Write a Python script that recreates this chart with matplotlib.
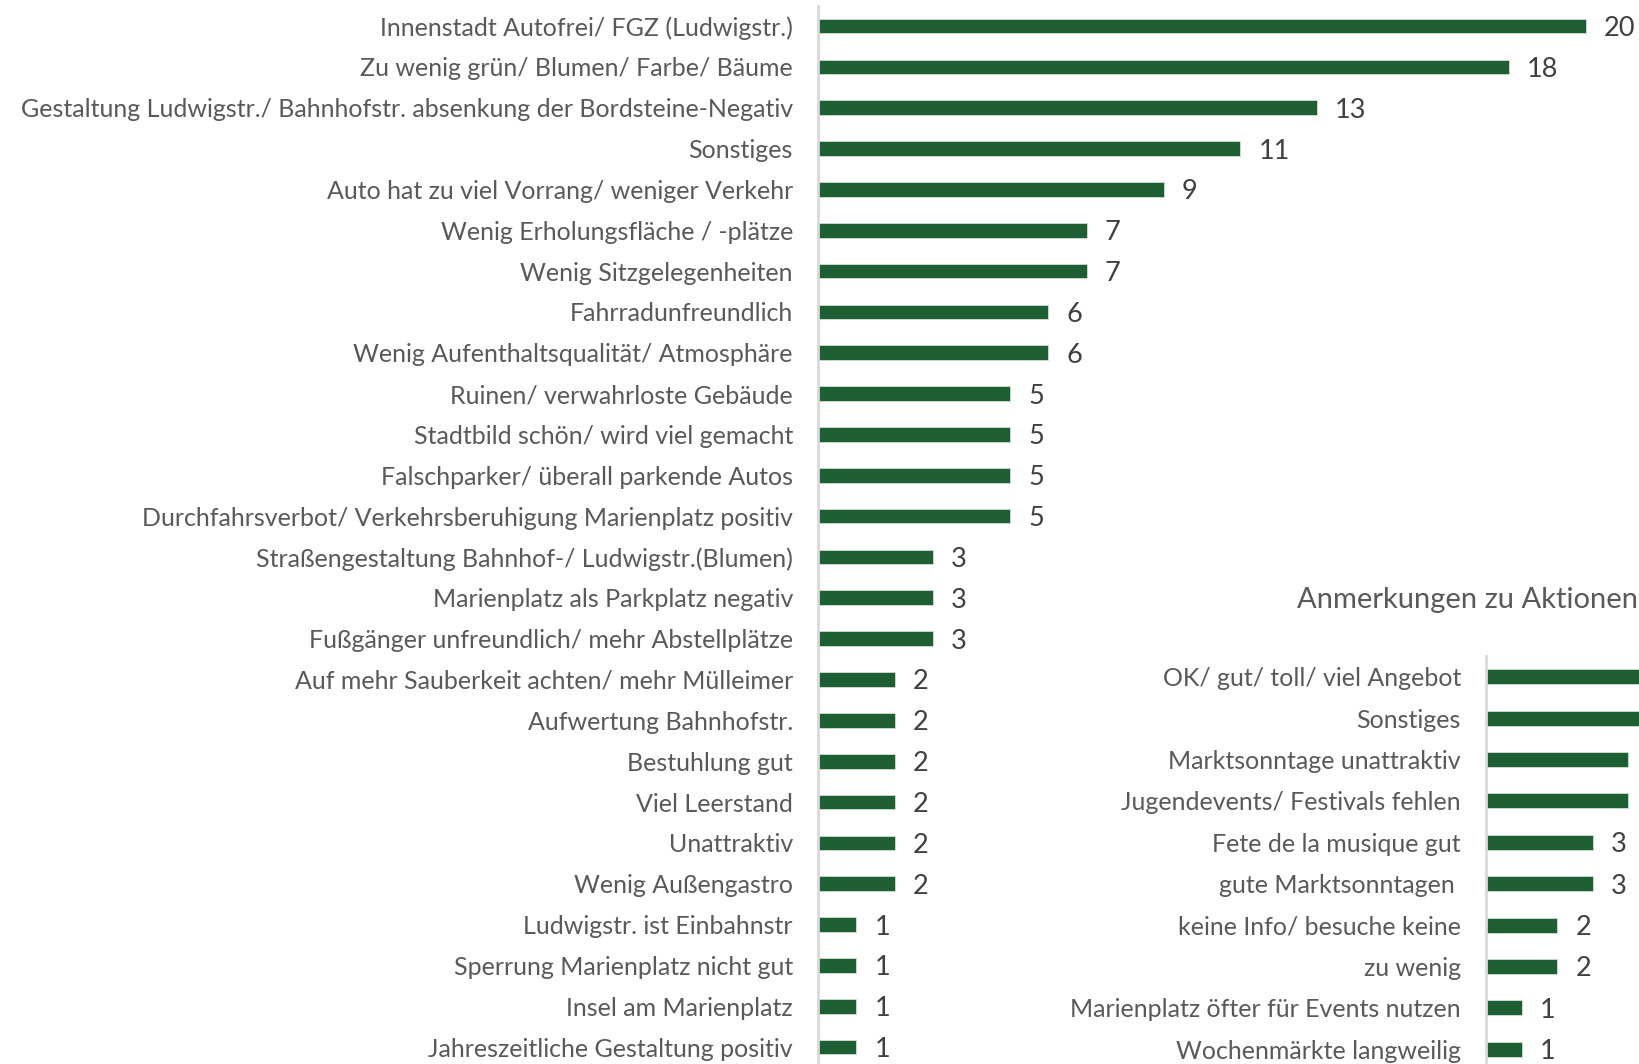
import matplotlib.pyplot as plt

# main chart data (top to bottom)
labels = [
    'Innenstadt Autofrei/ FGZ (Ludwigstr.)',
    'Zu wenig grün/ Blumen/ Farbe/ Bäume',
    'Gestaltung Ludwigstr./ Bahnhofstr. absenkung der Bordsteine-Negativ',
    'Sonstiges',
    'Auto hat zu viel Vorrang/ weniger Verkehr',
    'Wenig Erholungsfläche / -plätze',
    'Wenig Sitzgelegenheiten',
    'Fahrradunfreundlich',
    'Wenig Aufenthaltsqualität/ Atmosphäre',
    'Ruinen/ verwahrloste Gebäude',
    'Stadtbild schön/ wird viel gemacht',
    'Falschparker/ überall parkende Autos',
    'Durchfahrsverbot/ Verkehrsberuhigung Marienplatz positiv',
    'Straßengestaltung Bahnhof-/ Ludwigstr.(Blumen)',
    'Marienplatz als Parkplatz negativ',
    'Fußgänger unfreundlich/ mehr Abstellplätze',
    'Auf mehr Sauberkeit achten/ mehr Mülleimer',
    'Aufwertung Bahnhofstr.',
    'Bestuhlung gut',
    'Viel Leerstand',
    'Unattraktiv',
    'Wenig Außengastro',
    'Ludwigstr. ist Einbahnstr',
    'Sperrung Marienplatz nicht gut',
    'Insel am Marienplatz',
    'Jahreszeitliche Gestaltung positiv',
]
values = [20, 18, 13, 11, 9, 7, 7, 6, 6, 5, 5, 5, 5, 3, 3, 3, 2, 2, 2, 2, 2, 2, 1, 1, 1, 1]

# inset chart data
akt_title = 'Anmerkungen zu Aktionen'
akt_labels = [
    'OK/ gut/ toll/ viel Angebot',
    'Sonstiges',
    'Marktsonntage unattraktiv',
    'Jugendevents/ Festivals fehlen',
    'Fete de la musique gut',
    'gute Marktsonntagen ',
    'keine Info/ besuche keine',
    'zu wenig',
    'Marienplatz öfter für Events nutzen',
    'Wochenmärkte langweilig',
]
akt_values = [5, 5, 4, 4, 3, 3, 2, 2, 1, 1]

GREEN = '#1e5e33'
LBL = '#595959'
VAL = '#404040'
FS = 18

plt.rcParams['font.family'] = ['Lato', 'DejaVu Sans']
plt.rcParams['font.weight'] = 'normal'

W, H = 1640, 1064
fig = plt.figure(figsize=(W/100, H/100), dpi=100)


def bar_panel(ax, labs, vals, vis_max):
    n = len(labs)
    ax.barh(range(n), vals, height=0.36, color=GREEN, edgecolor='#cfe0d3', linewidth=0.6)
    ax.set_ylim(n - 0.5, -0.5)
    ax.set_yticks(range(n))
    ax.set_yticklabels(labs, fontsize=FS, color=LBL)
    ax.tick_params(axis='y', length=0, pad=18)
    ax.set_xticks([])
    for s in ['top', 'right', 'bottom']:
        ax.spines[s].set_visible(False)
    ax.spines['left'].set_color('#d9d9d9')
    ax.spines['left'].set_linewidth(2)
    for i, v in enumerate(vals):
        if v > vis_max:
            continue  # label falls outside the picture
        ax.annotate(str(v), (v, i), xytext=(13, 0), textcoords='offset points',
                    va='center_baseline', ha='left', fontsize=FS + 1.5, color=VAL,
                    annotation_clip=False)


# main panel: x=0 at 818px, 38.4 px per unit
ax = fig.add_axes([818/W, (H - 1067.5)/H, 21*38.4/W, (1067.5 - 5.6)/H])
ax.set_xlim(0, 21)
bar_panel(ax, labels, values, 20)

# inset panel: x=0 at 1486px, 35.6 px per unit
ax2 = fig.add_axes([1486/W, (H - 1070)/H, 6*35.6/W, (1070 - 656)/H])
ax2.set_xlim(0, 6)
bar_panel(ax2, akt_labels, akt_values, 3)
fig.text(1638/W, 1 - 600/H, akt_title, fontsize=21, color=LBL, va='center', ha='right')

fig.savefig('out.png', dpi=100)
